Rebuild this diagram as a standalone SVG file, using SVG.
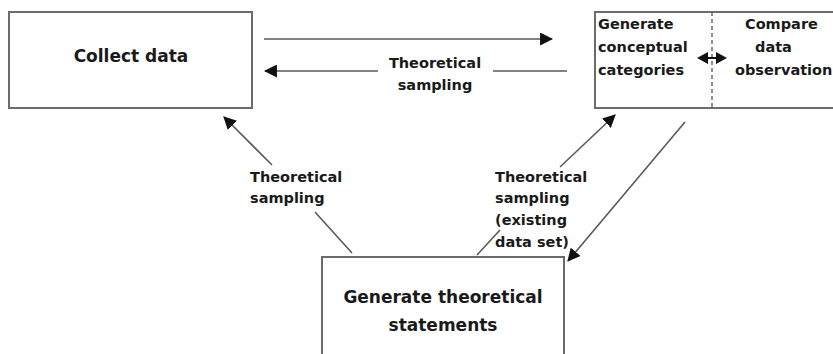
<svg xmlns="http://www.w3.org/2000/svg" width="833" height="354" viewBox="0 0 833 354">
  <style>
    .box { fill: #ffffff; stroke: #6b6b6b; stroke-width: 2; }
    .divider { stroke: #6b6b6b; stroke-width: 1.5; stroke-dasharray: 4 3; fill: none; }
    .link { stroke: #5a5a5a; stroke-width: 1.6; fill: none; }
    .main { font-family: "DejaVu Sans", Verdana, sans-serif; font-weight: bold; font-size: 17px; fill: #1a1a1a; }
    .label { font-family: "DejaVu Sans", Verdana, sans-serif; font-weight: bold; font-size: 14.5px; fill: #1a1a1a; }
  </style>
  <defs>
    <marker id="head" viewBox="0 0 10 10" refX="9" refY="5" markerWidth="10" markerHeight="10" markerUnits="userSpaceOnUse" orient="auto">
      <path d="M0,0 L10,5 L0,10 Z" fill="#111111"/>
    </marker>
    <marker id="headL" viewBox="0 0 12 12" refX="11" refY="6" markerWidth="13" markerHeight="13" markerUnits="userSpaceOnUse" orient="auto">
      <path d="M0,0 L12,6 L0,12 Z" fill="#111111"/>
    </marker>
  </defs>
  <rect width="833" height="354" fill="#ffffff"/>

  <g id="collect-data">
    <rect class="box" x="9" y="12" width="243" height="96"/>
    <text class="main" x="131" y="62" text-anchor="middle">Collect data</text>
  </g>

  <g id="generate-compare">
    <rect class="box" x="595" y="12" width="250" height="96"/>
    <line class="divider" x1="712" y1="12" x2="712" y2="108"/>
    <text class="label" x="598" y="29">Generate</text>
    <text class="label" x="598" y="52">conceptual</text>
    <text class="label" x="598" y="75">categories</text>
    <text class="label" x="745" y="29">Compare</text>
    <text class="label" x="755" y="52">data</text>
    <text class="label" x="735" y="75">observation</text>
    <path d="M697,58 L708,52 L708,64 Z M727,58 L716,52 L716,64 Z" fill="#111111"/>
    <line x1="706" y1="58" x2="718" y2="58" stroke="#111111" stroke-width="2"/>
  </g>

  <g id="theoretical-statements">
    <rect class="box" x="322" y="257" width="242" height="110"/>
    <text class="main" x="443" y="303" text-anchor="middle">Generate theoretical</text>
    <text class="main" x="443" y="331" text-anchor="middle">statements</text>
  </g>

  <g id="connectors">
    <!-- collect data to conceptual categories -->
    <line class="link" x1="264" y1="39" x2="552" y2="39" marker-end="url(#headL)"/>
    <!-- theoretical sampling back to collect data -->
    <line class="link" x1="378" y1="71" x2="265" y2="71" marker-end="url(#headL)"/>
    <line class="link" x1="493" y1="71" x2="567" y2="71"/>
    <text class="label" x="435" y="68" text-anchor="middle">Theoretical</text>
    <text class="label" x="435" y="90" text-anchor="middle">sampling</text>

    <!-- statements to collect data -->
    <line class="link" x1="272" y1="165" x2="224" y2="117" marker-end="url(#headL)"/>
    <line class="link" x1="315" y1="212" x2="352" y2="253"/>
    <text class="label" x="250" y="182">Theoretical</text>
    <text class="label" x="250" y="203">sampling</text>

    <!-- statements to conceptual categories -->
    <line class="link" x1="560" y1="167" x2="615" y2="115" marker-end="url(#headL)"/>
    <line class="link" x1="477" y1="255" x2="500" y2="230"/>
    <text class="label" x="495" y="182">Theoretical</text>
    <text class="label" x="495" y="203">sampling</text>
    <text class="label" x="495" y="225">(existing</text>
    <text class="label" x="495" y="247">data set)</text>

    <!-- conceptual categories to statements -->
    <line class="link" x1="685" y1="122" x2="568" y2="261" marker-end="url(#headL)"/>
  </g>
</svg>
